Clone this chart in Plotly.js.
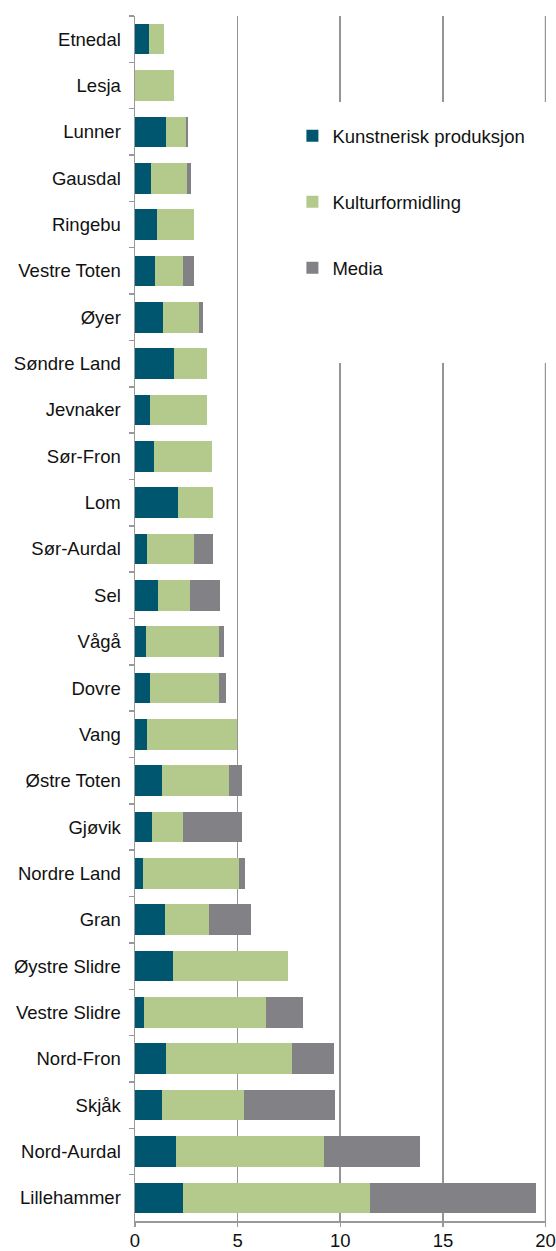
<!DOCTYPE html>
<html>
<head>
<meta charset="utf-8">
<script src="https://cdn.plot.ly/plotly-3.0.1.min.js"></script>
<style>html,body{margin:0;padding:0;background:#fff;}#chart{width:556px;height:1251px;}</style>
</head>
<body>
<div id="chart"></div>
<script>
const categories = ["Etnedal","Lesja","Lunner","Gausdal","Ringebu","Vestre Toten","Øyer","Søndre Land","Jevnaker","Sør-Fron","Lom","Sør-Aurdal","Sel","Vågå","Dovre","Vang","Østre Toten","Gjøvik","Nordre Land","Gran","Øystre Slidre","Vestre Slidre","Nord-Fron","Skjåk","Nord-Aurdal","Lillehammer"];
const kunstnerisk = [0.67,0,1.52,0.78,1.07,0.97,1.35,1.90,0.74,0.92,2.09,0.59,1.14,0.52,0.71,0.57,1.33,0.81,0.40,1.44,1.85,0.43,1.52,1.30,1.99,2.34];
const kulturformidling = [0.73,1.90,0.95,1.75,1.80,1.38,1.78,1.61,2.77,2.83,1.72,2.28,1.54,3.55,3.36,4.40,3.27,1.53,4.67,2.16,5.62,5.97,6.11,3.99,7.21,9.13];
const media = [0,0,0.09,0.19,0,0.54,0.19,0,0,0,0,0.95,1.47,0.26,0.36,0,0.59,2.87,0.29,2.06,0,1.80,2.08,4.43,4.68,8.08];
const seriesNames = ["Kunstnerisk produksjon","Kulturformidling","Media"];
const xTicks = [0,5,10,15,20];

const colors = ["#00566F","#B4C98C","#828186"];
const vals = [kunstnerisk, kulturformidling, media];
const traces = vals.map((v,i)=>({
  type:'bar', orientation:'h', x:v, y:categories, name:seriesNames[i],
  legendgroup:'g'+i,
  marker:{color:colors[i], line:{width:0}},
  hoverinfo:'x+y'
}));

const fam = 'Liberation Sans, Arial, sans-serif';
const fsize = 18.5;
const gridCol = '#959595';
const layout = {
  width:556, height:1251,
  margin:{l:135, r:10, t:16, b:30},
  paper_bgcolor:'#fff', plot_bgcolor:'#fff',
  barmode:'stack', bargap:0.34,
  font:{family:fam, size:fsize, color:'#111'},
  showlegend:true,
  legend:{x:0.383, xanchor:'left', y:0.916, yanchor:'top', bgcolor:'rgba(0,0,0,0)',
          font:{family:fam, size:fsize, color:'#111'}, tracegroupgap:39, traceorder:'grouped',
          itemwidth:30},
  xaxis:{range:[0,20.02], tickvals:xTicks, ticktext:xTicks.map(String), showgrid:true, gridcolor:gridCol, gridwidth:1.6,
         zeroline:false, showline:true, linecolor:'#999', linewidth:1.5, ticks:'outside', ticklen:4, tickcolor:'#999', tickwidth:1.5,
         ticklabelstandoff:-2, ticklabeloverflow:'allow',
         tickfont:{family:fam, size:fsize, color:'#111'}, fixedrange:true},
  yaxis:{type:'category', categoryorder:'array', categoryarray:categories, autorange:'reversed',
         showgrid:false, showline:true, linecolor:'#999', linewidth:1.5, ticks:'outside', ticklen:5, tickcolor:'#999', tickwidth:1.5,
         tickson:'boundaries', ticklabelstandoff:9,
         tickfont:{family:fam, size:fsize, color:'#111'}, fixedrange:true},
  shapes:[
    {type:'line', xref:'x', yref:'paper', x0:xTicks[xTicks.length-1], x1:xTicks[xTicks.length-1], y0:0, y1:1,
     line:{color:gridCol, width:1.6}, layer:'below'},
    {type:'rect', xref:'paper', yref:'paper', x0:0.37, x1:1.05, y0:0.712, y1:0.9286,
     fillcolor:'#fff', line:{width:0}, layer:'above'}]
};
Plotly.newPlot('chart', traces, layout, {staticPlot:true});
</script>
</body>
</html>
